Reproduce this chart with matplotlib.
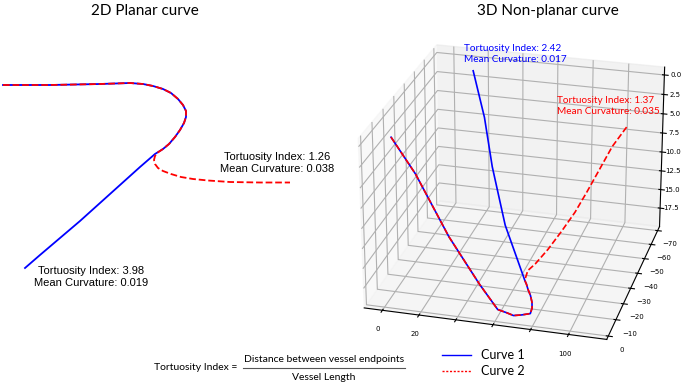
import numpy as np
import matplotlib
matplotlib.use('Agg')
import matplotlib.pyplot as plt
from matplotlib.lines import Line2D

# ---- 2D planar curve (arbitrary units) ----
c1_2d_x = [0, 47, 97, 127, 140, 150, 160, 168, 175, 180, 183, 183, 181, 177, 172, 166, 160, 152,
           137, 117, 97, 77, 57, 37, 22]
c1_2d_y = [0, 0, 1, 2, 1, -1, -4, -8, -14, -20, -26, -32, -38, -45, -52, -59, -64, -69,
           -82, -100, -118, -136, -153, -170, -183]
c2_2d_x = [0, 47, 97, 127, 140, 150, 160, 168, 175, 180, 183, 183, 181, 177, 172, 166, 160, 154,
           152, 151, 152, 155, 160, 168, 178, 190, 205, 227, 257, 287]
c2_2d_y = [0, 0, 1, 2, 1, -1, -4, -8, -14, -20, -26, -32, -38, -45, -52, -59, -64, -68,
           -71, -75, -79, -83, -86, -89, -92, -94, -95.5, -97, -97.5, -97.5]

# ---- 3D non-planar curve ----
shared_x = [0.1, 14, 32.5, 49.5, 60, 65, 68.7, 72.8, 77, 77, 76, 74, 71.5, 69, 66.4]
shared_y = [-10, -8, -6, -4.5, -3, -2.7, -2.5, -3, -4, -6, -8, -10.5, -13, -16.5, -20]
shared_z = [0.6, 4.4, 11.3, 16.5, 19.1, 19.3, 19.5, 19.4, 19.3, 19.0, 18.7, 18.4, 18.2, 18.3, 18.55]
c1_tail_x = [50, 37.8, 29.8, 18]
c1_tail_y = [-31.6, -41.8, -49.2, -60]
c1_tail_z = [14.1, 8.7, 3.8, -0.2]
c2_tail_x = [67.5, 70.5, 75.7, 81.2, 86.8, 91.7, 96.3, 102.2, 109]
c2_tail_y = [-21.2, -23.5, -27.3, -31.4, -35.2, -38.7, -41.9, -46, -50]
c2_tail_z = [17.5, 17.0, 15.7, 14.0, 12.1, 10.0, 7.9, 5.2, 3.0]

x3_ticks = [0, 20, 40, 60, 80, 100]
x3_labels = ['0', '20', '', '', '', '100']
y3_ticks = [0, -10, -20, -30, -40, -50, -60, -70]
z3_ticks = [0, 2.5, 5, 7.5, 10, 12.5, 15, 17.5]

blue = '#0000ff'
red = '#ff0000'
title_font = 'Lato'

fig = plt.figure(figsize=(6.85, 3.85), dpi=100)

# left panel
ax = fig.add_axes([0, 0, 0.5, 1])
ax.plot(c1_2d_x, c1_2d_y, color=blue, lw=1.3)
ax.plot(c2_2d_x, c2_2d_y, color=red, lw=1.3, ls='--')
ax.set_xlim(-3, 339.5)
ax.set_ylim(-300, 85)
ax.axis('off')
fig.text(277 / 685, 1 - 163 / 385, 'Tortuosity Index: 1.26\nMean Curvature: 0.038', ha='center',
         va='center', fontsize=8, family='Liberation Sans', linespacing=1.25)
fig.text(91 / 685, 1 - 277 / 385, 'Tortuosity Index: 3.98\nMean Curvature: 0.019', ha='center',
         va='center', fontsize=8, family='Liberation Sans', linespacing=1.25)
fig.text(145 / 685, 1 - 11 / 385, '2D Planar curve', ha='center', va='center',
         fontsize=11, family=title_font)

# right panel
ax3 = fig.add_axes([0.458, 0.006, 0.58, 1.0], projection='3d')
ax3.set_facecolor('none')
c1x = shared_x + c1_tail_x
c1y = shared_y + c1_tail_y
c1z = shared_z + c1_tail_z
c2x = shared_x + c2_tail_x
c2y = shared_y + c2_tail_y
c2z = shared_z + c2_tail_z
ax3.plot(c1x, c1y, c1z, color=blue, lw=1.2)
ax3.plot(c2x, c2y, c2z, color=red, lw=1.2, ls='--')
ax3.set_xlim(-10, 120)
ax3.set_ylim(2, -73)
ax3.set_zlim(20, -1)
ax3.set_xticks(x3_ticks)
ax3.set_xticklabels(x3_labels)
ax3.set_yticks(y3_ticks)
ax3.set_zticks(z3_ticks)
ax3.tick_params(labelsize=5, pad=0)
ax3.zaxis.set_tick_params(pad=-2)
ax3.set_box_aspect((3.856, 4, 2.874), zoom=0.995)
ax3.view_init(elev=25, azim=-75)
fig.text(464 / 685, 1 - 54 / 385, 'Tortuosity Index: 2.42\nMean Curvature: 0.017', color=blue,
         fontsize=7.2, family=title_font, va='center', linespacing=1.15)
fig.text(557 / 685, 1 - 106 / 385, 'Tortuosity Index: 1.37\nMean Curvature: 0.035', color=red,
         fontsize=7.2, family=title_font, va='center', linespacing=1.15)
fig.text(548 / 685, 1 - 11 / 385, '3D Non-planar curve', ha='center', va='center',
         fontsize=11, family=title_font)

# formula + legend
fig.text(237 / 685, 1 - 368 / 385, 'Tortuosity Index =', ha='right', va='center',
         fontsize=7.5, family=title_font)
fig.text(324 / 685, 1 - 359 / 385, 'Distance between vessel endpoints', ha='center', va='center',
         fontsize=7.5, family=title_font)
fig.text(324 / 685, 1 - 377 / 385, 'Vessel Length', ha='center', va='center',
         fontsize=7.5, family=title_font)
fig.add_artist(Line2D([243 / 685, 405 / 685], [1 - 368 / 385, 1 - 368 / 385], color='#555555', lw=0.8))
handles = [Line2D([], [], color=blue, lw=1.0),
           Line2D([], [], color=red, lw=1.0, ls=(0, (1.5, 1.2)))]
fig.legend(handles, ['Curve 1', 'Curve 2'], loc='center left', bbox_to_anchor=(436 / 685, 1 - 363 / 385),
           frameon=False, prop={'family': title_font, 'size': 9}, handlelength=2.3,
           labelspacing=0.3, borderpad=0)

fig.savefig('out.png', dpi=100)
